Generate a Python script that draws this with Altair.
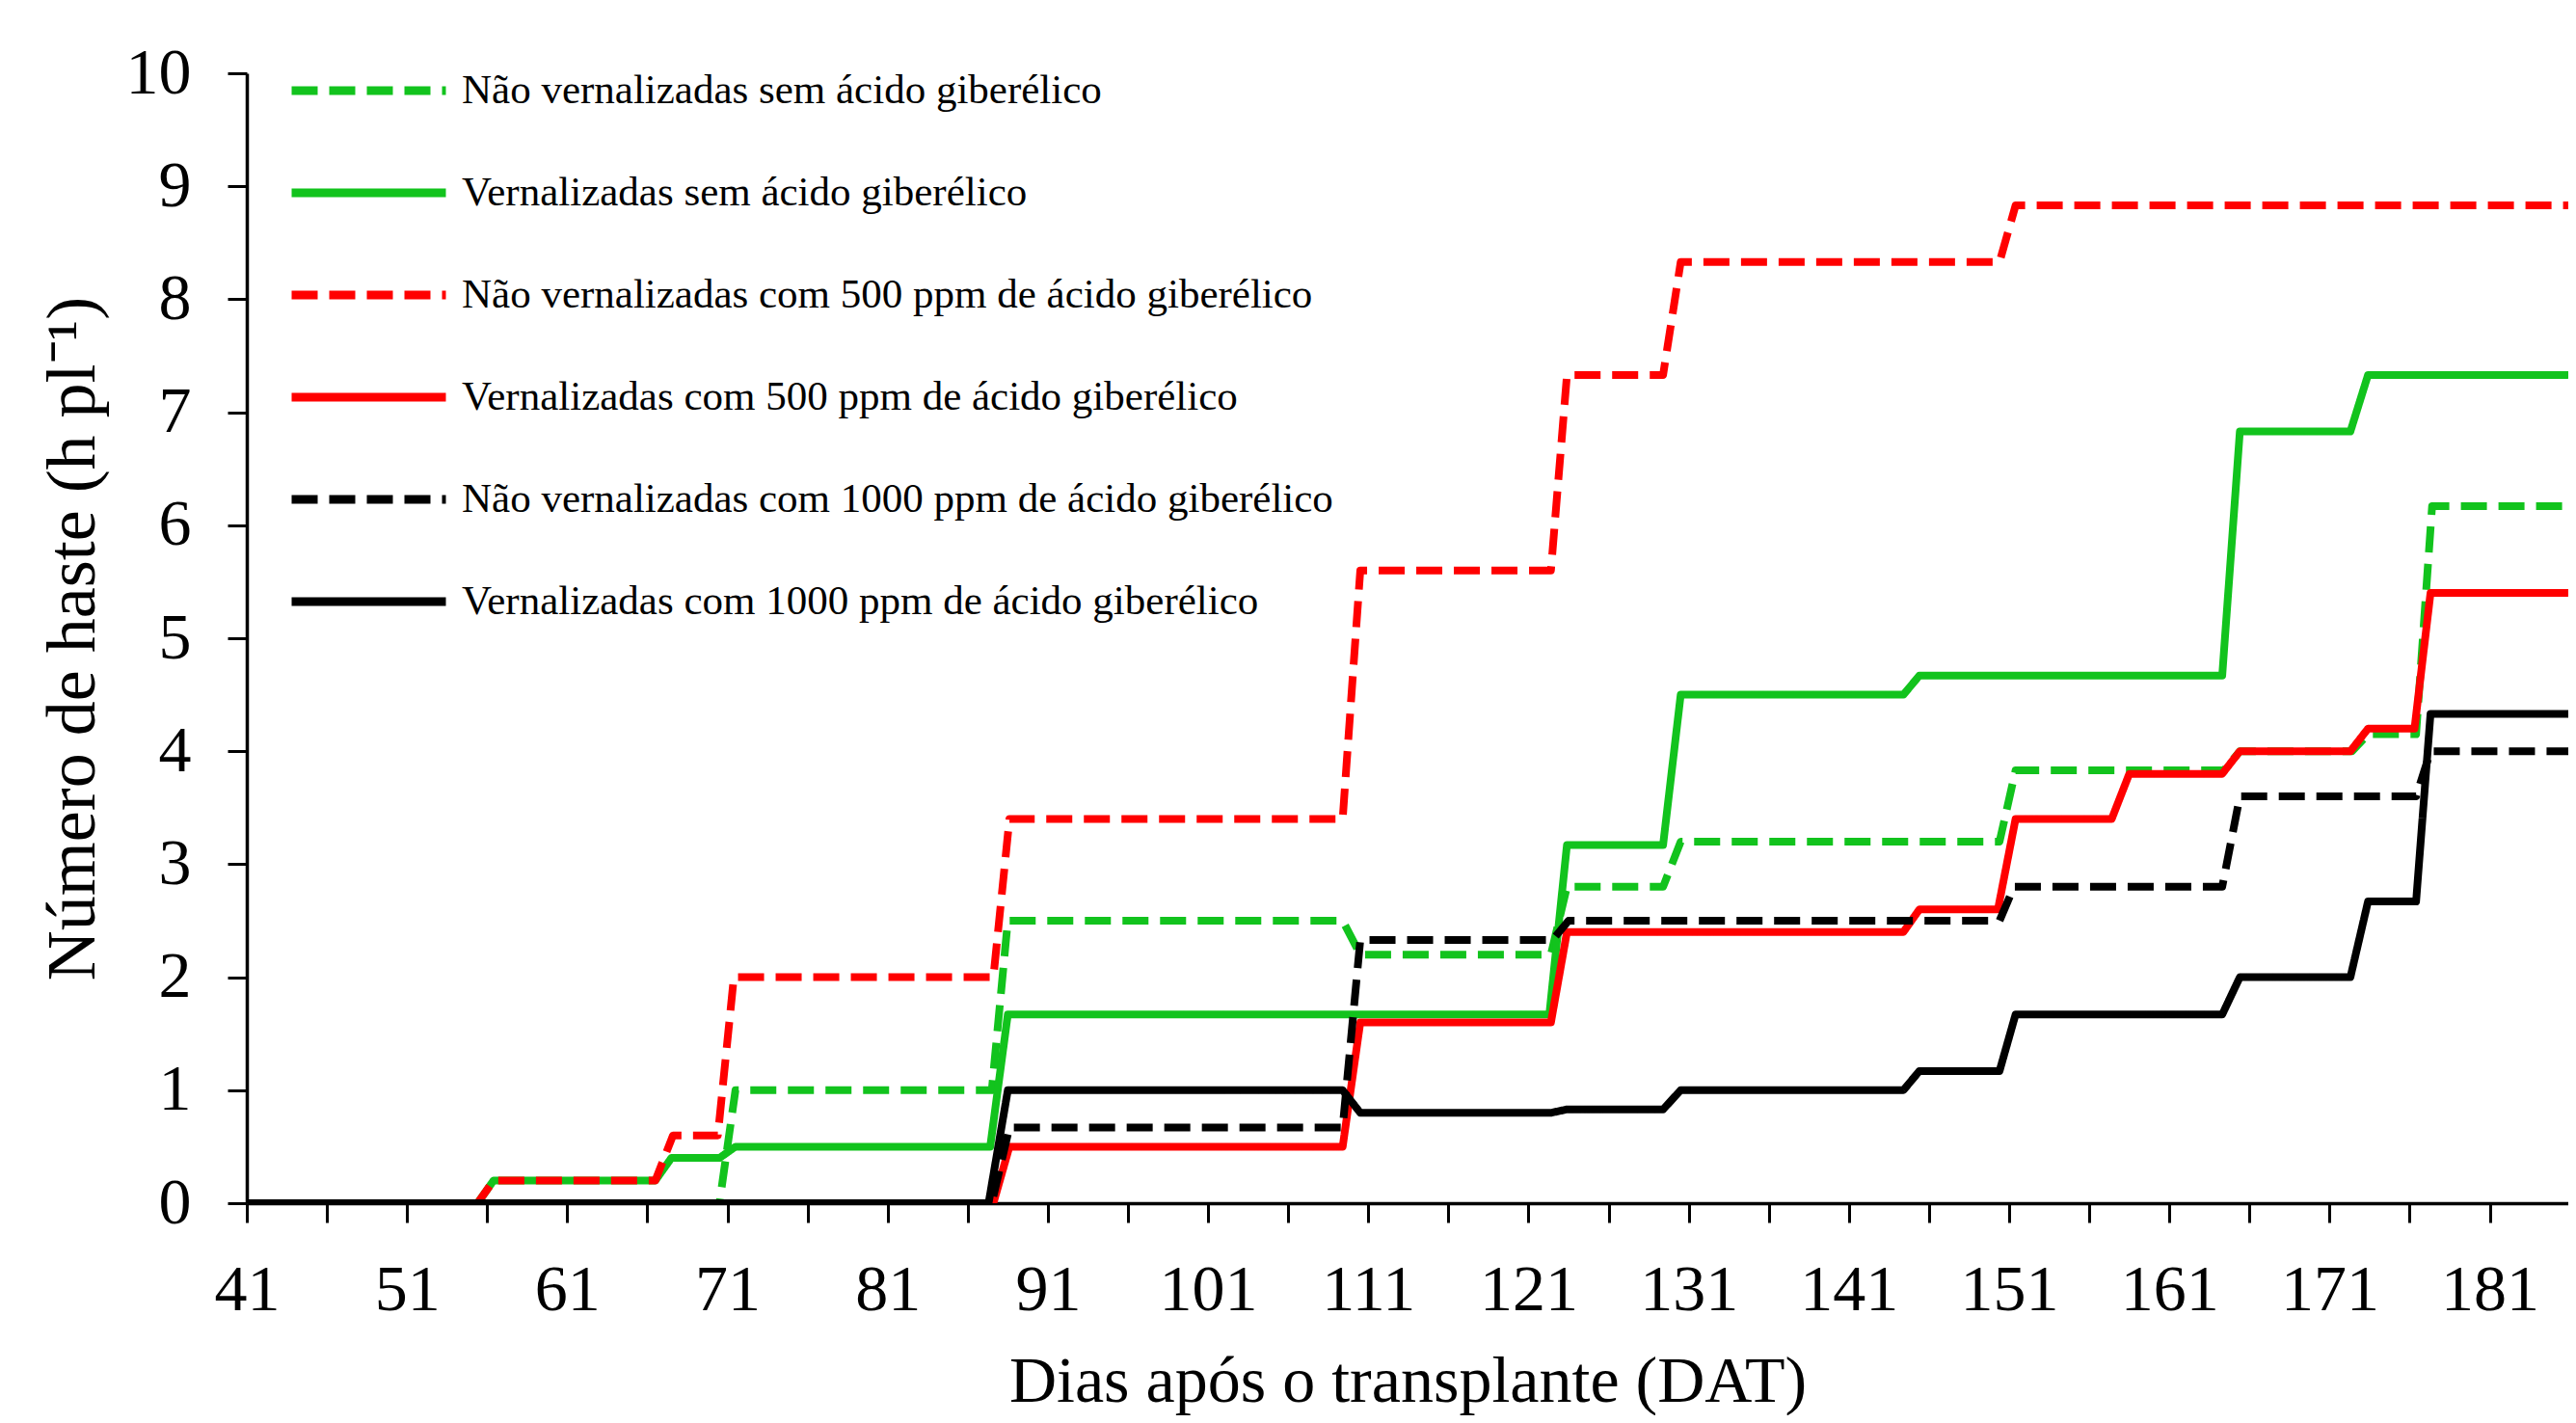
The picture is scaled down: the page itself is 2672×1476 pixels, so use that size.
import altair as alt
import pandas as pd

series_names = [
    "Não vernalizadas sem ácido giberélico",
    "Vernalizadas sem ácido giberélico",
    "Não vernalizadas com 500 ppm de ácido giberélico",
    "Vernalizadas com 500 ppm de ácido giberélico",
    "Não vernalizadas com 1000 ppm de ácido giberélico",
    "Vernalizadas com 1000 ppm de ácido giberélico",
]

nv_sem_x = [41, 70.5, 71.5, 87.5, 88.5, 109.4, 110.5, 122.4, 123.4, 129.4, 130.5, 150.4, 151.4, 164.4, 165.4, 172.4, 173.4, 176.4, 177.4, 186.4]
nv_sem_y = [0, 0, 1.0, 1.0, 2.5, 2.5, 2.2, 2.2, 2.8, 2.8, 3.2, 3.2, 3.83, 3.83, 4.0, 4.0, 4.15, 4.15, 6.17, 6.17]

v_sem_x = [41, 55.4, 56.4, 66.5, 67.5, 70.5, 71.5, 87.4, 88.5, 122.3, 123.4, 129.4, 130.5, 144.4, 145.4, 164.3, 165.4, 172.3, 173.4, 186.4]
v_sem_y = [0, 0, 0.2, 0.2, 0.4, 0.4, 0.5, 0.5, 1.67, 1.67, 3.17, 3.17, 4.5, 4.5, 4.67, 4.67, 6.83, 6.83, 7.33, 7.33]

nv_500_x = [41, 55.4, 56.4, 66.5, 67.6, 70.4, 71.4, 87.6, 88.6, 109.4, 110.5, 122.4, 123.4, 129.4, 130.5, 150.4, 151.4, 186.4]
nv_500_y = [0, 0, 0.2, 0.2, 0.6, 0.6, 2.0, 2.0, 3.4, 3.4, 5.6, 5.6, 7.33, 7.33, 8.33, 8.33, 8.83, 8.83]

v_500_x = [41, 87.6, 88.6, 109.4, 110.5, 122.4, 123.4, 144.4, 145.4, 150.3, 151.4, 157.4, 158.5, 164.3, 165.4, 172.3, 173.4, 176.3, 177.3, 186.4]
v_500_y = [0, 0, 0.5, 0.5, 1.6, 1.6, 2.4, 2.4, 2.6, 2.6, 3.4, 3.4, 3.8, 3.8, 4.0, 4.0, 4.2, 4.2, 5.4, 5.4]

nv_1000_x = [41, 87.5, 88.6, 109.4, 110.5, 122.5, 123.5, 150.4, 151.3, 164.3, 165.4, 176.4, 177.3, 186.4]
nv_1000_y = [0, 0, 0.67, 0.67, 2.33, 2.33, 2.5, 2.5, 2.8, 2.8, 3.6, 3.6, 4.0, 4.0]

v_1000_x = [41, 87.3, 88.5, 109.4, 110.5, 122.4, 123.4, 129.4, 130.5, 144.4, 145.4, 150.4, 151.4, 164.3, 165.4, 172.3, 173.4, 176.4, 177.3, 186.4]
v_1000_y = [0, 0, 1.0, 1.0, 0.8, 0.8, 0.83, 0.83, 1.0, 1.0, 1.17, 1.17, 1.67, 1.67, 2.0, 2.0, 2.67, 2.67, 4.33, 4.33]

x_ticks = list(range(41, 186, 5))
y_ticks = list(range(0, 11))

colors = ["#12c31d", "#12c31d", "#ff0000", "#ff0000", "#000000", "#000000"]
dashes = [[27, 12], [1, 0], [27, 12], [1, 0], [27, 12], [1, 0]]

rows = []
all_series = [
    (nv_sem_x, nv_sem_y), (v_sem_x, v_sem_y),
    (nv_500_x, nv_500_y), (v_500_x, v_500_y),
    (nv_1000_x, nv_1000_y), (v_1000_x, v_1000_y),
]
for i, (xs, ys) in enumerate(all_series):
    for j, (xv, yv) in enumerate(zip(xs, ys)):
        rows.append({"serie": series_names[i], "ord": i, "idx": j, "dat": xv, "haste": yv})
df = pd.DataFrame(rows)

FONT = "Liberation Serif"


def make_legend():
    return alt.Legend(title=None, orient="none", legendX=42, legendY=-7,
                      symbolType="stroke", symbolSize=25600,
                      symbolStrokeWidth=9, clipHeight=50,
                      rowPadding=56, padding=0, labelOffset=12,
                      labelFontSize=43, labelColor="black",
                      labelLimit=2000)


chart = alt.Chart(df).mark_line(strokeWidth=8, clip=True, strokeJoin="round").encode(
    x=alt.X("dat:Q",
            scale=alt.Scale(domain=[41, 185.9], nice=False, zero=False),
            axis=alt.Axis(values=x_ticks,
                          labelExpr="(datum.value - 41) % 10 == 0 ? datum.label : ''",
                          format="d",
                          tickSize=20, tickWidth=3, tickColor="black",
                          domainWidth=3.5, domainColor="black",
                          labelFontSize=68, labelPadding=36, labelColor="black",
                          labelOverlap=False, labelFlush=False,
                          grid=False,
                          title="Dias após o transplante (DAT)",
                          titleFontSize=68, titleFontWeight="normal",
                          titleColor="black", titlePadding=27)),
    y=alt.Y("haste:Q",
            scale=alt.Scale(domain=[0, 10], nice=False),
            axis=alt.Axis(values=y_ticks, format="d",
                          tickSize=20, tickWidth=3, tickColor="black",
                          domainWidth=3.5, domainColor="black",
                          labelFontSize=68, labelPadding=38, labelColor="black",
                          labelOverlap=False, grid=False,
                          title="Número de haste (h pl⁻¹)",
                          titleFontSize=72, titleFontWeight="normal",
                          titleColor="black", titlePadding=18)),
    color=alt.Color("serie:N",
                    scale=alt.Scale(domain=series_names, range=colors),
                    sort=series_names,
                    legend=make_legend()),
    strokeDash=alt.StrokeDash("serie:N",
                              scale=alt.Scale(domain=series_names, range=dashes),
                              sort=series_names,
                              legend=make_legend()),
    order="idx:Q",
).properties(
    width=2408,
    height=1172,
    autosize=alt.AutoSizeParams(type="none"),
    padding={"left": 248, "top": 68, "right": 0, "bottom": 220},
).configure(
    font=FONT,
    background="white",
).configure_view(
    stroke=None,
)

chart.save("out.html", embed_options={"renderer": "svg", "actions": False})
